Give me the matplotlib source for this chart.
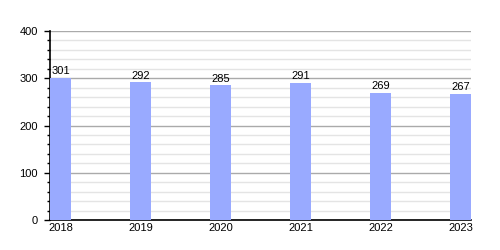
import matplotlib
matplotlib.use('Agg')
import matplotlib.pyplot as plt
from matplotlib.ticker import MultipleLocator

years = ['2018', '2019', '2020', '2021', '2022', '2023']
values = [301, 292, 285, 291, 269, 267]

plt.rcParams['font.family'] = ['Liberation Sans', 'DejaVu Sans']

bar_w = 0.2625
fig = plt.figure(figsize=(5, 2.5), dpi=100)
ax = fig.add_axes([0.1, 0.12, 0.842, 0.756])

x = list(range(len(years)))
ax.bar(x, values, width=bar_w, align='edge', color='#99aaff', zorder=3)
for i, v in zip(x, values):
    ax.text(i + bar_w / 2, v + 3, str(v), ha='center', va='bottom', fontsize=8, color='#000000', zorder=4)

ax.set_xlim(0, len(years) - 1 + bar_w)
ax.set_ylim(0, 400)
ax.yaxis.set_major_locator(MultipleLocator(100))
ax.yaxis.set_minor_locator(MultipleLocator(20))
ax.grid(which='major', axis='y', color='#aaaaaa', linewidth=1, zorder=1)
ax.grid(which='minor', axis='y', color='#e4e4e4', linewidth=1, zorder=0)

ax.set_xticks([i + bar_w / 2 for i in x])
ax.set_xticklabels(years)
ax.tick_params(axis='x', length=0, pad=2, labelsize=8)
ax.tick_params(axis='y', which='major', length=4.3, width=1, pad=4.3, labelsize=8)
ax.tick_params(axis='y', which='minor', length=2.2, width=1)

for s in ['top', 'right']:
    ax.spines[s].set_visible(False)
for s in ['left', 'bottom']:
    ax.spines[s].set_color('#000000')
    ax.spines[s].set_linewidth(1.2)

fig.savefig('out.png', dpi=100)
